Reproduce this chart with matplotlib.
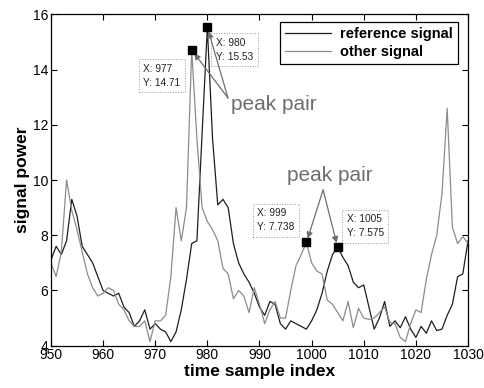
import numpy as np
import matplotlib
matplotlib.use('Agg')
import matplotlib.pyplot as plt

plt.rcParams['font.family'] = ['Liberation Sans', 'DejaVu Sans']

# time sample index 950..1030
t = np.arange(950, 1031)

reference_signal = [
    7.1, 7.6, 7.3, 7.8, 9.3, 8.7, 7.6, 7.3, 7.0, 6.5,        # 950-959
    6.0, 5.9, 5.8, 5.9, 5.4, 5.2, 4.7, 4.9, 5.3, 4.6,        # 960-969
    4.8, 4.6, 4.5, 4.15, 4.5, 5.3, 6.4, 7.7, 7.8, 11.7,      # 970-979
    15.53, 11.5, 9.1, 9.3, 9.0, 7.7, 7.0, 6.6, 6.3, 5.9,     # 980-989
    5.4, 5.1, 5.6, 5.5, 4.8, 4.6, 4.9, 4.8, 4.7, 4.6,        # 990-999
    4.9, 5.3, 5.9, 6.7, 7.3, 7.575, 7.2, 6.9, 6.3, 6.1,      # 1000-1009
    6.2, 5.4, 4.6, 5.0, 5.6, 4.7, 4.9, 4.65, 5.05, 4.6,      # 1010-1019
    4.3, 4.7, 4.45, 4.9, 4.55, 4.6, 5.1, 5.5, 6.5, 6.6,      # 1020-1029
    7.8,                                                     # 1030
]

other_signal = [
    7.0, 6.5, 7.4, 10.0, 8.9, 8.2, 7.4, 6.6, 6.1, 5.8,       # 950-959
    5.9, 6.1, 6.0, 5.5, 5.3, 4.9, 4.7, 4.7, 4.9, 4.15,       # 960-969
    4.9, 4.9, 5.1, 6.5, 9.0, 7.8, 9.0, 14.71, 11.5, 9.0,     # 970-979
    8.5, 8.2, 7.8, 6.8, 6.6, 5.7, 6.0, 5.8, 5.2, 6.1,        # 980-989
    5.5, 4.8, 5.3, 5.6, 5.0, 5.0, 6.0, 6.9, 7.3, 7.738,      # 990-999
    7.0, 6.7, 6.6, 5.65, 5.5, 5.2, 4.9, 5.6, 4.65, 5.35,     # 1000-1009
    5.0, 4.95, 5.0, 5.2, 5.4, 4.85, 4.8, 4.3, 4.15, 4.8,     # 1010-1019
    5.3, 5.2, 6.4, 7.3, 8.0, 9.5, 12.6, 8.3, 7.7, 7.95,      # 1020-1029
    7.7,                                                     # 1030
]

# data tips: (series, sample index)
tips = [('other', 977), ('reference', 980), ('other', 999), ('reference', 1005)]
tip_values = {'977': '14.71', '980': '15.53', '999': '7.738', '1005': '7.575'}

series = {'reference': np.array(reference_signal), 'other': np.array(other_signal)}

fig = plt.figure(figsize=(4.85, 3.88), dpi=100)
fig.patch.set_facecolor('white')
ax = fig.add_axes([0.105, 0.109, 0.860, 0.854])

ax.plot(t, reference_signal, color='#1e1e1e', lw=0.9, label='reference signal')
ax.plot(t, other_signal, color='#8c8c8c', lw=0.9, label='other signal')

ax.set_xlim(950, 1030)
ax.set_ylim(4, 16)
ax.set_xticks(np.arange(950, 1031, 10))
ax.set_yticks(np.arange(4, 17, 2))
ax.tick_params(direction='in', top=True, right=True, length=4, width=0.8,
               labelsize=10, pad=2)
for s in ax.spines.values():
    s.set_linewidth(0.9)
    s.set_color('black')

ax.set_xlabel('time sample index', fontsize=12.5, fontweight='bold', labelpad=1)
ax.set_ylabel('signal power', fontsize=12.5, fontweight='bold', labelpad=2)

leg = ax.legend(loc='upper right', bbox_to_anchor=(0.976, 0.977),
                borderaxespad=0, fancybox=False, framealpha=1,
                edgecolor='black', handlelength=3.2, handletextpad=0.6,
                labelspacing=0.25, borderpad=0.35,
                prop={'weight': 'bold', 'size': 10.5})
leg.get_frame().set_linewidth(0.9)

# data tip markers and boxes
box_centers = {977: (971.25, 13.78), 980: (985.2, 14.72),
               999: (993.15, 8.54), 1005: (1010.3, 8.32)}
for name, xi in tips:
    yi = series[name][xi - 950]
    ax.plot(xi, yi, 's', color='black', ms=5.5, zorder=5)
    cx, cy = box_centers[xi]
    ax.text(cx, cy, f'X: {xi}\nY: {tip_values[str(xi)]}', fontsize=7.3,
            ha='center', va='center', multialignment='left', color='#222222',
            linespacing=1.5,
            bbox=dict(boxstyle='square,pad=0.45', fc='white', ec='#9a9a9a',
                      lw=0.7, ls=':'))

# "peak pair" callouts
ax.text(992.8, 12.72, 'peak pair', fontsize=15, color='#6e6e6e',
        ha='center', va='center')
ax.text(1003.4, 10.15, 'peak pair', fontsize=15, color='#6e6e6e',
        ha='center', va='center')

arrow = dict(arrowstyle='-|>', color='#6e6e6e', lw=0.9,
             mutation_scale=9, shrinkA=0, shrinkB=3)
for name, xi in tips[:2]:
    ax.annotate('', xy=(xi, series[name][xi - 950]), xytext=(983.97, 12.97),
                arrowprops=arrow)
for name, xi in tips[2:]:
    ax.annotate('', xy=(xi, series[name][xi - 950]), xytext=(1002.2, 9.64),
                arrowprops=arrow)

fig.savefig('out.png', dpi=100, facecolor='white')
